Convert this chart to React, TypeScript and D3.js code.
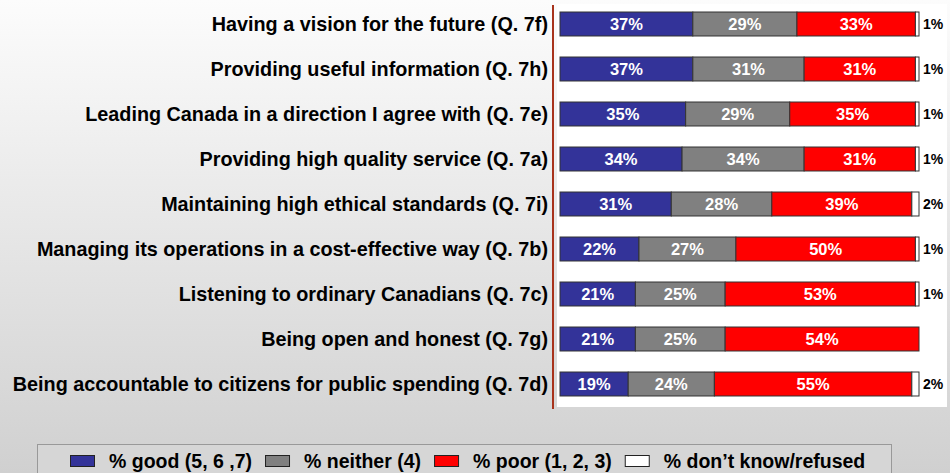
import React, { useRef, useEffect } from 'react';
import * as d3 from 'd3';

const categories = [
  'Having a vision for the future (Q. 7f)',
  'Providing useful information (Q. 7h)',
  'Leading Canada in a direction I agree with (Q. 7e)',
  'Providing high quality service (Q. 7a)',
  'Maintaining high ethical standards (Q. 7i)',
  'Managing its operations in a cost-effective way (Q. 7b)',
  'Listening to ordinary Canadians (Q. 7c)',
  'Being open and honest (Q. 7g)',
  'Being accountable to citizens for public spending (Q. 7d)',
];

const good = [37, 37, 35, 34, 31, 22, 21, 21, 19];
const neither = [29, 31, 29, 34, 28, 27, 25, 25, 24];
const poor = [33, 31, 35, 31, 39, 50, 53, 54, 55];
const dontKnow = [1, 1, 1, 1, 2, 1, 1, 0, 2];

const seriesKeys = ['good', 'neither', 'poor', 'dk'];
const seriesNames = ['% good (5, 6 ,7)', '% neither (4)', '% poor (1, 2, 3)', '% don\u2019t know/refused'];
const seriesColors = ['#333399', '#808080', '#ff0000', '#ffffff'];

const width = 950;
const height = 473;
const font = '"Liberation Sans", Arial, sans-serif';

export default function App() {
  const ref = useRef<SVGSVGElement>(null);

  useEffect(() => {
    if (!ref.current) return;
    const svg = d3.select(ref.current);
    svg.selectAll('*').remove();

    const rows = categories.map((c, i) => ({
      category: c,
      good: good[i],
      neither: neither[i],
      poor: poor[i],
      dk: dontKnow[i],
    }));

    const x = d3.scaleLinear().domain([0, 100]).range([560, 919]);
    const y = d3.scaleBand<string>()
      .domain(categories)
      .range([1.5, 406.5])
      .paddingInner(0.467)
      .paddingOuter(0.2335);
    const color = d3.scaleOrdinal<string, string>().domain(seriesKeys).range(seriesColors);

    // background
    const defs = svg.append('defs');
    const grad = defs.append('linearGradient')
      .attr('id', 'bg')
      .attr('x1', 0).attr('y1', 0).attr('x2', 0).attr('y2', 1);
    grad.append('stop').attr('offset', '0%').attr('stop-color', '#fcfcfc');
    grad.append('stop').attr('offset', '100%').attr('stop-color', '#d0d0d0');
    svg.append('rect').attr('width', width).attr('height', height).attr('fill', 'url(#bg)');

    // white plot area
    svg.append('rect')
      .attr('x', 557).attr('y', 4)
      .attr('width', 390).attr('height', 403)
      .attr('fill', '#ffffff');

    // axis line
    svg.append('line')
      .attr('x1', 553).attr('x2', 553)
      .attr('y1', 5).attr('y2', 409)
      .attr('stroke', '#a8331c').attr('stroke-width', 2);

    // category labels
    svg.append('g')
      .selectAll('text')
      .data(categories)
      .join('text')
      .attr('x', 548)
      .attr('y', d => y(d)! + y.bandwidth() / 2)
      .attr('dy', '0.36em')
      .attr('text-anchor', 'end')
      .style('font-family', font)
      .style('font-weight', 'bold')
      .style('font-size', '19.8px')
      .style('fill', '#000')
      .text(d => d);

    const stacked = d3.stack<any>().keys(seriesKeys)(rows);

    const layers = svg.append('g')
      .selectAll('g')
      .data(stacked)
      .join('g')
      .attr('fill', d => color(d.key));

    layers.selectAll('rect')
      .data(d => d.filter(p => p[1] - p[0] > 0))
      .join('rect')
      .attr('x', d => x(d[0]))
      .attr('y', d => y(d.data.category)!)
      .attr('width', d => x(d[1]) - x(d[0]))
      .attr('height', y.bandwidth())
      .attr('stroke', '#333')
      .attr('stroke-width', 1);

    // value labels inside bars
    stacked.slice(0, 3).forEach(layer => {
      svg.append('g')
        .selectAll('text')
        .data(layer)
        .join('text')
        .attr('x', d => (x(d[0]) + x(d[1])) / 2)
        .attr('y', d => y(d.data.category)! + y.bandwidth() / 2)
        .attr('dy', '0.36em')
        .attr('text-anchor', 'middle')
        .style('font-family', font)
        .style('font-weight', 'bold')
        .style('font-size', '16.5px')
        .style('fill', '#fff')
        .text(d => `${d[1] - d[0]}%`);
    });

    // don't know labels outside
    svg.append('g')
      .selectAll('text')
      .data(rows.filter(r => r.dk > 0))
      .join('text')
      .attr('x', x(100) + 4)
      .attr('y', d => y(d.category)! + y.bandwidth() / 2)
      .attr('dy', '0.36em')
      .style('font-family', font)
      .style('font-weight', 'bold')
      .style('font-size', '14px')
      .style('fill', '#000')
      .text(d => `${d.dk}%`);

    // legend
    const legend = svg.append('g');
    legend.append('rect')
      .attr('x', 37.5).attr('y', 444.5)
      .attr('width', 854).attr('height', 40)
      .attr('fill', '#d6d6d6')
      .attr('stroke', '#999')
      .attr('stroke-width', 1);

    let lx = 70;
    seriesKeys.forEach((k, i) => {
      legend.append('rect')
        .attr('x', lx + 0.5).attr('y', 455.5)
        .attr('width', 24).attr('height', 11)
        .attr('fill', color(k))
        .attr('stroke', '#222');
      const t = legend.append('text')
        .attr('x', lx + 39)
        .attr('y', 468)
        .style('font-family', font)
        .style('font-weight', 'bold')
        .style('font-size', '19.5px')
        .style('fill', '#000')
        .text(seriesNames[i]);
      const w = (t.node() as SVGTextElement).getComputedTextLength();
      lx = lx + 39 + w + 13;
    });
  }, []);

  return (
    <svg
      ref={ref}
      width={width}
      height={height}
      style={{ position: 'absolute', left: 0, top: 0, display: 'block' }}
    />
  );
}
